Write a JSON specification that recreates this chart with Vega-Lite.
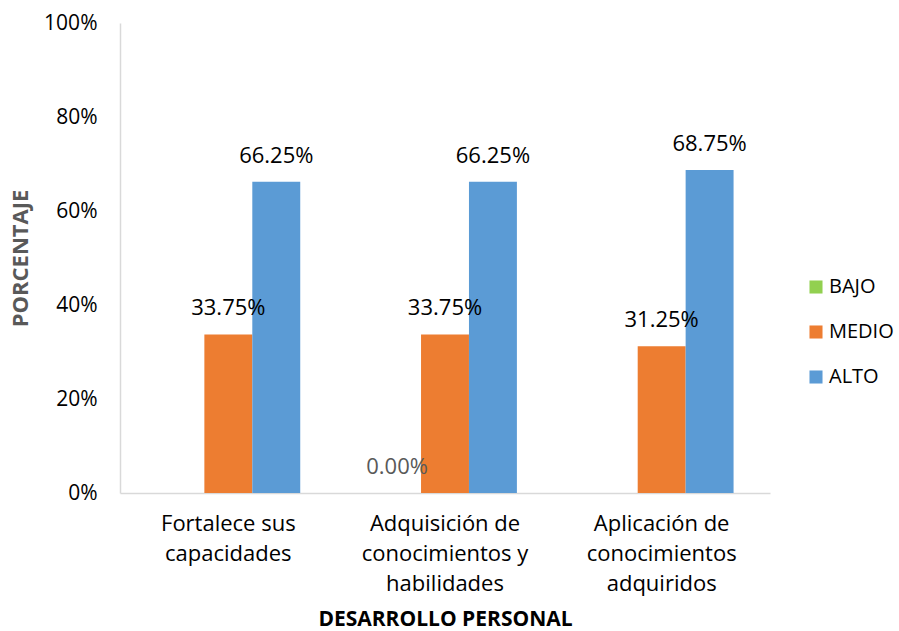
{
  "$schema": "https://vega.github.io/schema/vega-lite/v6.json",
  "width": 650,
  "height": 470,
  "autosize": {"type": "none"},
  "padding": {"left": 120, "top": 23, "right": 129, "bottom": 138},
  "config": {"font": "Open Sans", "view": {"stroke": null}},
  "data": {
    "values": [
      {"categoria": "Fortalece sus capacidades", "nivel": "BAJO", "valor": 0, "label": ""},
      {"categoria": "Fortalece sus capacidades", "nivel": "MEDIO", "valor": 0.3375, "label": "33.75%"},
      {"categoria": "Fortalece sus capacidades", "nivel": "ALTO", "valor": 0.6625, "label": "66.25%"},
      {"categoria": "Adquisición de conocimientos y habilidades", "nivel": "BAJO", "valor": 0, "label": "0.00%"},
      {"categoria": "Adquisición de conocimientos y habilidades", "nivel": "MEDIO", "valor": 0.3375, "label": "33.75%"},
      {"categoria": "Adquisición de conocimientos y habilidades", "nivel": "ALTO", "valor": 0.6625, "label": "66.25%"},
      {"categoria": "Aplicación de conocimientos adquiridos", "nivel": "BAJO", "valor": 0, "label": ""},
      {"categoria": "Aplicación de conocimientos adquiridos", "nivel": "MEDIO", "valor": 0.3125, "label": "31.25%"},
      {"categoria": "Aplicación de conocimientos adquiridos", "nivel": "ALTO", "valor": 0.6875, "label": "68.75%"}
    ]
  },
  "encoding": {
    "x": {
      "field": "categoria",
      "type": "nominal",
      "sort": ["Fortalece sus capacidades", "Adquisición de conocimientos y habilidades", "Aplicación de conocimientos adquiridos"],
      "scale": {"paddingInner": 0, "paddingOuter": 0},
      "title": "DESARROLLO PERSONAL",
      "axis": {
        "labelAngle": 0,
        "labelFontSize": 22,
        "labelColor": "#000000",
        "labelLineHeight": 30,
        "labelPadding": 20,
        "labelBaseline": "top",
        "ticks": false,
        "domainColor": "#d9d9d9",
        "domainWidth": 1.5,
        "labelExpr": "datum.value == 'Fortalece sus capacidades' ? ['Fortalece sus', 'capacidades'] : datum.value == 'Adquisición de conocimientos y habilidades' ? ['Adquisición de', 'conocimientos y', 'habilidades'] : ['Aplicación de', 'conocimientos', 'adquiridos']",
        "titleFontSize": 21,
        "titleFontWeight": "bold",
        "titleColor": "#000000",
        "titleY": 126,
        "titleBaseline": "middle"
      }
    },
    "xOffset": {
      "field": "nivel",
      "sort": ["BAJO", "MEDIO", "ALTO"],
      "scale": {"paddingOuter": 0.76, "paddingInner": 0}
    },
    "y": {
      "field": "valor",
      "type": "quantitative",
      "scale": {"domain": [0, 1]},
      "title": "PORCENTAJE",
      "axis": {
        "format": ".0%",
        "values": [0, 0.2, 0.4, 0.6, 0.8, 1],
        "grid": false,
        "ticks": false,
        "labelFontSize": 21,
        "labelColor": "#000000",
        "labelPadding": 23,
        "domainColor": "#d9d9d9",
        "domainWidth": 1.5,
        "titleFontSize": 22,
        "titleFontWeight": "bold",
        "titleColor": "#595959",
        "titleX": -100,
        "titleY": 235,
        "titleAngle": -90,
        "titleAlign": "center",
        "titleBaseline": "middle"
      }
    }
  },
  "layer": [
    {
      "mark": {"type": "bar"},
      "encoding": {
        "color": {
          "field": "nivel",
          "type": "nominal",
          "sort": ["BAJO", "MEDIO", "ALTO"],
          "scale": {"domain": ["BAJO", "MEDIO", "ALTO"], "range": ["#92D050", "#ED7D31", "#5B9BD5"]},
          "legend": {
            "title": null,
            "orient": "none",
            "legendX": 686,
            "legendY": 254,
            "symbolType": "square",
            "symbolSize": 170,
            "symbolStrokeWidth": 0,
            "labelFontSize": 20,
            "labelColor": "#000000",
            "rowPadding": 25,
            "labelOffset": 3
          }
        }
      }
    },
    {
      "mark": {"type": "text", "dy": -26, "baseline": "middle", "fontSize": 22},
      "encoding": {
        "text": {"field": "label"},
        "color": {"condition": {"test": "datum.valor == 0", "value": "#595959"}, "value": "#000000"}
      }
    }
  ]
}
